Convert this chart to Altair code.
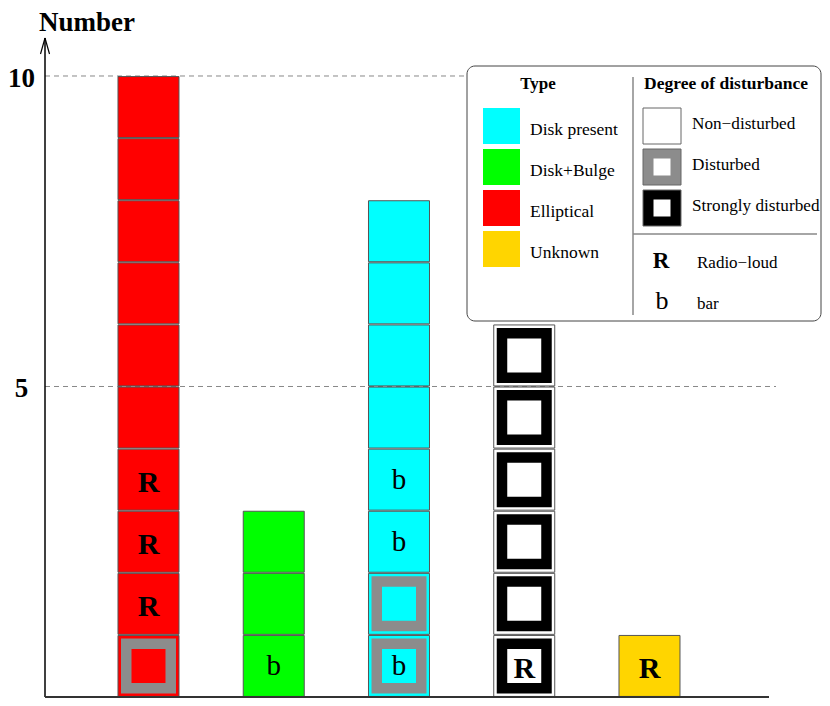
import altair as alt
import pandas as pd

# ---------------- data ----------------
col_types = ["Elliptical", "Disk+Bulge", "Disk present", "Unclassified", "Unknown"]
# bottom -> top, N = non-disturbed, D = disturbed, S = strongly disturbed
ell_disturb = ["D", "N", "N", "N", "N", "N", "N", "N", "N", "N"]
ell_marks = ["", "R", "R", "R", "", "", "", "", "", ""]
db_disturb = ["N", "N", "N"]
db_marks = ["b", "", ""]
dp_disturb = ["D", "D", "N", "N", "N", "N", "N", "N"]
dp_marks = ["b", "", "b", "b", "", "", "", ""]
un_disturb = ["S", "S", "S", "S", "S", "S"]
un_marks = ["R", "", "", "", "", ""]
unk_disturb = ["N"]
unk_marks = ["R"]

col_disturb = [ell_disturb, db_disturb, dp_disturb, un_disturb, unk_disturb]
col_marks = [ell_marks, db_marks, dp_marks, un_marks, unk_marks]

y_ticks = [5, 10]
y_tick_labels = ["5", "10"]

legend_types = ["Disk present", "Disk+Bulge", "Elliptical", "Unknown"]
legend_disturb = ["Non\u2212disturbed", "Disturbed", "Strongly disturbed"]
legend_disturb_codes = ["N", "D", "S"]
legend_flags = ["R", "b"]
legend_flag_text = ["Radio\u2212loud", "bar"]

# ---------------- styles ----------------
type_colors = {
    "Elliptical": "#FF0000",
    "Disk+Bulge": "#00FF00",
    "Disk present": "#00FFFF",
    "Unclassified": "#FFFFFF",
    "Unknown": "#FFD500",
}
frame_colors = {"N": "#FFFFFF", "D": "#8C8C8C", "S": "#000000"}
FONT = "Liberation Serif"

rows = []
for i, (t, dists, marks) in enumerate(zip(col_types, col_disturb, col_marks), start=1):
    for j, (d, m) in enumerate(zip(dists, marks)):
        rows.append(dict(col=i, yc=j + 0.5, type=t, dist=d, mark=m,
                         fill=type_colors[t], frame=frame_colors[d]))
df = pd.DataFrame(rows)

# scales (plot area starts at page x=45, y=8; 0 at page y=697)
XS = alt.Scale(domain=[0.1737, 6.3773], nice=False, zero=False)
YS = alt.Scale(domain=[0, 11.095], nice=False, zero=False)
X = alt.X("col:Q", scale=XS, axis=None)
Y = alt.Y("yc:Q", scale=YS, axis=None)

one = pd.DataFrame({"a": [0]})


def px(v):  # page x -> view x
    return alt.value(v - 45)


def py(v):  # page y -> view y
    return alt.value(v - 8)


# gridlines
grid = alt.Chart(pd.DataFrame({"v": y_ticks})).mark_rule(
    color="#888888", strokeDash=[5, 4], strokeWidth=1
).encode(y=alt.Y("v:Q", scale=YS, axis=None), x=px(45), x2=px(776))

tick_text = alt.Chart(pd.DataFrame({"v": y_ticks, "t": y_tick_labels})).mark_text(
    font=FONT, fontSize=27, fontWeight="bold", align="center", baseline="alphabetic", dy=11
).encode(y=alt.Y("v:Q", scale=YS, axis=None), x=px(21.5), text="t:N")

title = alt.Chart(one).mark_text(
    text="Number", font=FONT, fontSize=27, fontWeight="bold", align="center", baseline="alphabetic"
).encode(x=px(87), y=py(31))

axis_line = alt.Chart(one).mark_rule(color="black", strokeWidth=1.5).encode(
    x=px(45), y=py(697), y2=py(38))
arrow_l = alt.Chart(one).mark_rule(color="black", strokeWidth=1.2).encode(
    x=px(45), y=py(38), x2=px(40.5), y2=py(54))
arrow_r = alt.Chart(one).mark_rule(color="black", strokeWidth=1.2).encode(
    x=px(45), y=py(38), x2=px(49.5), y2=py(54))
baseline = alt.Chart(one).mark_rule(color="#333333", strokeWidth=2).encode(
    x=px(45), x2=px(769), y=py(697))

# cells
base = alt.Chart(df)
cells = base.mark_square(size=61 * 61, opacity=1, filled=True, stroke="#555555", strokeWidth=1).encode(
    x=X, y=Y, fill=alt.Fill("fill:N", scale=None))
frames = base.transform_filter("datum.dist != 'N'").mark_square(
    size=55 * 55, opacity=1, filled=True, strokeWidth=0).encode(
    x=X, y=Y, fill=alt.Fill("frame:N", scale=None))
inner = base.transform_filter("datum.dist != 'N'").mark_square(
    size=34 * 34, opacity=1, filled=True, strokeWidth=0).encode(
    x=X, y=Y, fill=alt.Fill("fill:N", scale=None))
r_text = base.transform_filter("datum.mark == 'R'").mark_text(
    font=FONT, fontSize=30, fontWeight="bold", baseline="alphabetic", dy=12, color="black"
).encode(x=X, y=Y, text="mark:N")
b_text = base.transform_filter("datum.mark == 'b'").mark_text(
    font=FONT, fontSize=29, baseline="alphabetic", dy=9, color="black"
).encode(x=X, y=Y, text="mark:N")

# legend
box = alt.Chart(one).mark_rect(fill="white", stroke="#444444", strokeWidth=1, cornerRadius=8).encode(
    x=px(467), x2=px(821), y=py(66), y2=py(321))
vdiv = alt.Chart(one).mark_rule(color="#888888", strokeWidth=1.5).encode(
    x=px(633), y=py(77), y2=py(315))
hdiv = alt.Chart(one).mark_rule(color="#888888", strokeWidth=1.5).encode(
    x=px(633), x2=px(817), y=py(234))
hdr_type = alt.Chart(one).mark_text(text="Type", font=FONT, fontSize=17, fontWeight="bold",
                                    align="center", baseline="alphabetic").encode(x=px(538), y=py(89))
hdr_dist = alt.Chart(one).mark_text(text="Degree of disturbance", font=FONT, fontSize=17.5,
                                    fontWeight="bold", align="center", baseline="alphabetic").encode(
    x=px(726), y=py(89))

lt = pd.DataFrame({"name": legend_types, "k": range(len(legend_types))})
lt["fill"] = lt["name"].map(type_colors)
lt_base = alt.Chart(lt).transform_calculate(
    y0="100 + 41 * datum.k", y1="136 + 41 * datum.k", yt="127 + 41 * datum.k")
lt_sw = lt_base.mark_rect().encode(
    x=px(483), x2=px(520),
    y=alt.Y("y0:Q", scale=None), y2="y1:Q", fill=alt.Fill("fill:N", scale=None))
lt_tx = lt_base.mark_text(font=FONT, fontSize=17.5, align="left", baseline="alphabetic").encode(
    x=px(530), y=alt.Y("yt:Q", scale=None), text="name:N")

ld = pd.DataFrame({"name": legend_disturb, "code": legend_disturb_codes, "k": range(3)})
ld["frame"] = ld["code"].map(frame_colors)
ld_base = alt.Chart(ld).transform_calculate(
    y0="100 + 41 * datum.k", y1="136 + 41 * datum.k", yc="118 + 41 * datum.k",
    yt="121 + 41 * datum.k")
ld_sw = ld_base.mark_rect(stroke="#666666", strokeWidth=1).encode(
    x=px(643), x2=px(681),
    y=alt.Y("y0:Q", scale=None), y2="y1:Q", fill=alt.Fill("frame:N", scale=None))
ld_in = ld_base.transform_filter("datum.code != 'N'").mark_square(
    size=17 * 17, opacity=1, filled=True, color="white").encode(
    x=px(662), y=alt.Y("yc:Q", scale=None))
ld_tx = ld_base.mark_text(font=FONT, fontSize=17.2, align="left", baseline="alphabetic").encode(
    x=px(692), y=alt.Y("yt:Q", scale=None), text="name:N")

lf = pd.DataFrame({"sym": legend_flags, "name": legend_flag_text, "k": range(2)})
lf_base = alt.Chart(lf).transform_calculate(yt="260 + 41 * datum.k")
lf_r = lf_base.transform_filter("datum.sym == 'R'").mark_text(
    font=FONT, fontSize=23, fontWeight="bold", align="center", baseline="alphabetic").encode(
    x=px(661), y=alt.Y("yt:Q", scale=None), text="sym:N")
lf_b = lf_base.transform_filter("datum.sym == 'b'").mark_text(
    font=FONT, fontSize=26, align="center", baseline="alphabetic").encode(
    x=px(662), y=alt.Y("yt:Q", scale=None), text="sym:N")
lf_tx = lf_base.mark_text(font=FONT, fontSize=17, align="left", baseline="alphabetic").encode(
    x=px(697), y=alt.Y("yt:Q", scale=None), text="name:N")

chart = alt.layer(
    grid, tick_text, title, axis_line, arrow_l, arrow_r,
    cells, frames, inner, r_text, b_text, baseline,
    box, vdiv, hdiv, hdr_type, hdr_dist, lt_sw, lt_tx, ld_sw, ld_in, ld_tx, lf_r, lf_b, lf_tx,
).properties(
    width=777, height=689,
    autosize=alt.AutoSizeParams(type="none"),
    padding={"left": 37, "top": 0, "right": 0, "bottom": 1},
).configure_view(strokeWidth=0)

chart.save("out.html", embed_options={"renderer": "svg", "actions": False})
